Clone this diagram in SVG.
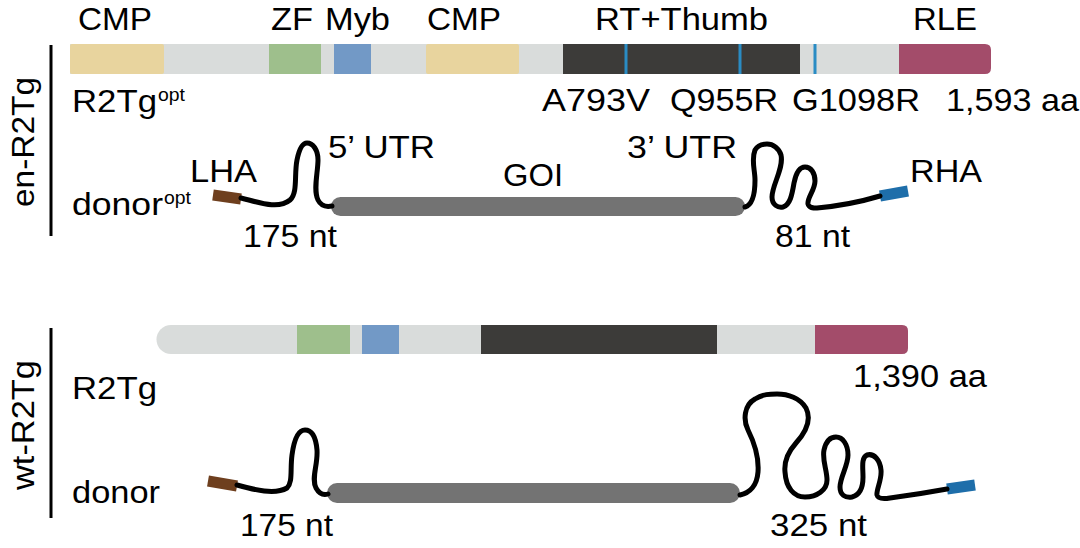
<svg xmlns="http://www.w3.org/2000/svg" width="1080" height="548" viewBox="0 0 1080 548">
<style>
text{font-family:"Liberation Sans",Arial,sans-serif;font-size:32px;fill:#000;}
.sup{font-size:19px;}
.bg{fill:#d9dcdb;}
.cmp{fill:#e8d49e;}
.zf{fill:#9ebf8c;}
.myb{fill:#7299c6;}
.rt{fill:#3c3b39;}
.rle{fill:#a34c6a;}
.mut{fill:#2a8cc4;}
.goi{fill:#737373;}
.utr{fill:none;stroke:#000;stroke-width:5;stroke-linecap:round;stroke-linejoin:round;}
.lha{stroke:#6e3f1e;stroke-width:11;}
.rha{stroke:#1e6eaa;stroke-width:11;}
.axis{stroke:#000;stroke-width:3;}
</style>
<rect width="1080" height="548" fill="#fff"/>

<g id="en-label">
<line class="axis" x1="51" y1="45" x2="51" y2="236"/>
<text transform="translate(34,142) rotate(-90)" text-anchor="middle" textLength="130" lengthAdjust="spacingAndGlyphs">en-R2Tg</text>
</g>

<g id="en-protein">
<rect class="bg" x="70" y="44" width="860" height="30"/>
<rect class="cmp" x="70" y="44" width="94" height="30" rx="2"/>
<rect class="zf" x="269" y="44" width="52" height="30"/>
<rect class="myb" x="334" y="44" width="37" height="30"/>
<rect class="cmp" x="426" y="44" width="93" height="30" rx="2"/>
<rect class="rt" x="563" y="44" width="237" height="30"/>
<rect class="mut" x="624.5" y="44" width="3" height="30"/>
<rect class="mut" x="738.5" y="44" width="3" height="30"/>
<rect class="mut" x="813.5" y="44" width="3" height="30"/>
<path class="rle" d="M899,44 H985 Q991,44 991,50 V68 Q991,74 985,74 H899 Z"/>
<text x="78" y="30" textLength="74" lengthAdjust="spacingAndGlyphs">CMP</text>
<text x="271" y="30" textLength="42" lengthAdjust="spacingAndGlyphs">ZF</text>
<text x="325" y="30" textLength="65" lengthAdjust="spacingAndGlyphs">Myb</text>
<text x="427" y="30" textLength="74" lengthAdjust="spacingAndGlyphs">CMP</text>
<text x="595" y="30" textLength="173" lengthAdjust="spacingAndGlyphs">RT+Thumb</text>
<text x="913" y="30" textLength="64" lengthAdjust="spacingAndGlyphs">RLE</text>
<text x="72" y="112" textLength="85" lengthAdjust="spacingAndGlyphs">R2Tg</text>
<text class="sup" x="158" y="101" textLength="27" lengthAdjust="spacingAndGlyphs">opt</text>
<text x="542" y="111" textLength="108" lengthAdjust="spacingAndGlyphs">A793V</text>
<text x="670" y="111" textLength="108" lengthAdjust="spacingAndGlyphs">Q955R</text>
<text x="792" y="111" textLength="128" lengthAdjust="spacingAndGlyphs">G1098R</text>
<text x="946" y="111" textLength="133" lengthAdjust="spacingAndGlyphs">1,593 aa</text>
</g>

<g id="en-donor">
<rect class="goi" x="331" y="197" width="414" height="19" rx="9.5"/>
<line class="lha" x1="213" y1="195" x2="241" y2="199"/>
<line class="rha" x1="880" y1="196" x2="908" y2="191"/>
<text x="72" y="215" textLength="91" lengthAdjust="spacingAndGlyphs">donor</text>
<text class="sup" x="164" y="204" textLength="27" lengthAdjust="spacingAndGlyphs">opt</text>
<text x="190" y="182" textLength="67" lengthAdjust="spacingAndGlyphs">LHA</text>
<text x="328" y="158" textLength="107" lengthAdjust="spacingAndGlyphs">5’ UTR</text>
<text x="503" y="186" textLength="60" lengthAdjust="spacingAndGlyphs">GOI</text>
<text x="627" y="158" textLength="110" lengthAdjust="spacingAndGlyphs">3’ UTR</text>
<text x="910" y="182" textLength="72" lengthAdjust="spacingAndGlyphs">RHA</text>
<text x="243" y="247" textLength="94" lengthAdjust="spacingAndGlyphs">175 nt</text>
<text x="775" y="247" textLength="75" lengthAdjust="spacingAndGlyphs">81 nt</text>
</g>

<g id="wt-label">
<line class="axis" x1="51" y1="328" x2="51" y2="518"/>
<text transform="translate(34,425) rotate(-90)" text-anchor="middle" textLength="130" lengthAdjust="spacingAndGlyphs">wt-R2Tg</text>
</g>

<g id="wt-protein">
<path class="bg" d="M171,325 H902 Q908,325 908,331 V348 Q908,354 902,354 H171 A14.5,14.5 0 0 1 171,325 Z"/>
<rect class="zf" x="297" y="325" width="53" height="29"/>
<rect class="myb" x="362" y="325" width="37" height="29"/>
<rect class="rt" x="481" y="325" width="236" height="29"/>
<path class="rle" d="M815,325 H902 Q908,325 908,331 V348 Q908,354 902,354 H815 Z"/>
<text x="72" y="399" textLength="85" lengthAdjust="spacingAndGlyphs">R2Tg</text>
<text x="853" y="387" textLength="134" lengthAdjust="spacingAndGlyphs">1,390 aa</text>
</g>

<g id="wt-donor">
<rect class="goi" x="327" y="483" width="413" height="20" rx="10"/>
<line class="lha" x1="208" y1="481" x2="237" y2="486"/>
<line class="rha" x1="947" y1="489" x2="975" y2="485"/>
<text x="72" y="503" textLength="88" lengthAdjust="spacingAndGlyphs">donor</text>
<text x="240" y="536" textLength="93" lengthAdjust="spacingAndGlyphs">175 nt</text>
<text x="770" y="536" textLength="97" lengthAdjust="spacingAndGlyphs">325 nt</text>
</g>

<g id="connectors">
<path class="utr" d="M241,198 C258,202 278,210 290,200 C298,193 294,175 297,160 C299,150 302,143 307,143 C313,143 318,150 318,160 C318,172 313,190 318,200 C321,206 327,207 332,206"/>
<path class="utr" d="M745,207 C752,205 755,195 755,180 C755,170 751,160 755,150 C758,145 763,144 767,144 C773,144 779,148 781,155 C784,168 772,185 772,197 C772,205 778,208 783,207 C790,205 792,195 794,183 C796,173 799,167 805,167 C811,167 815,173 815,181 C815,190 807,198 808,204 C809,208 813,208 817,208 Q850,205 880,196"/>
<path class="utr" d="M237,485 C255,490 275,495 287,488 C293,482 290,470 292,455 C294,440 298,430 305,430 C312,430 316,438 317,450 C318,465 311,478 316,488 C320,495 325,495 328,494"/>
<path class="utr" d="M740,495 C750,493 757,485 758,472 C759,458 754,442 748,430 C743,420 744,405 755,399 C763,394 770,394 777,394 C788,394 800,398 806,408 C812,420 805,433 796,443 C788,452 784,462 785,472 C786,488 794,497 805,497 C817,497 827,490 827,480 C827,470 822,460 824,450 C826,441 830,437 836,437 C843,437 848,445 848,455 C848,466 840,477 840,487 C840,495 845,498 852,497 C860,495 863,487 863,477 C863,467 861,458 867,455 C874,453 880,460 881,470 C882,480 876,490 877,495 C878,499 884,499 890,498 Q920,494 947,489"/>
</g>
</svg>
